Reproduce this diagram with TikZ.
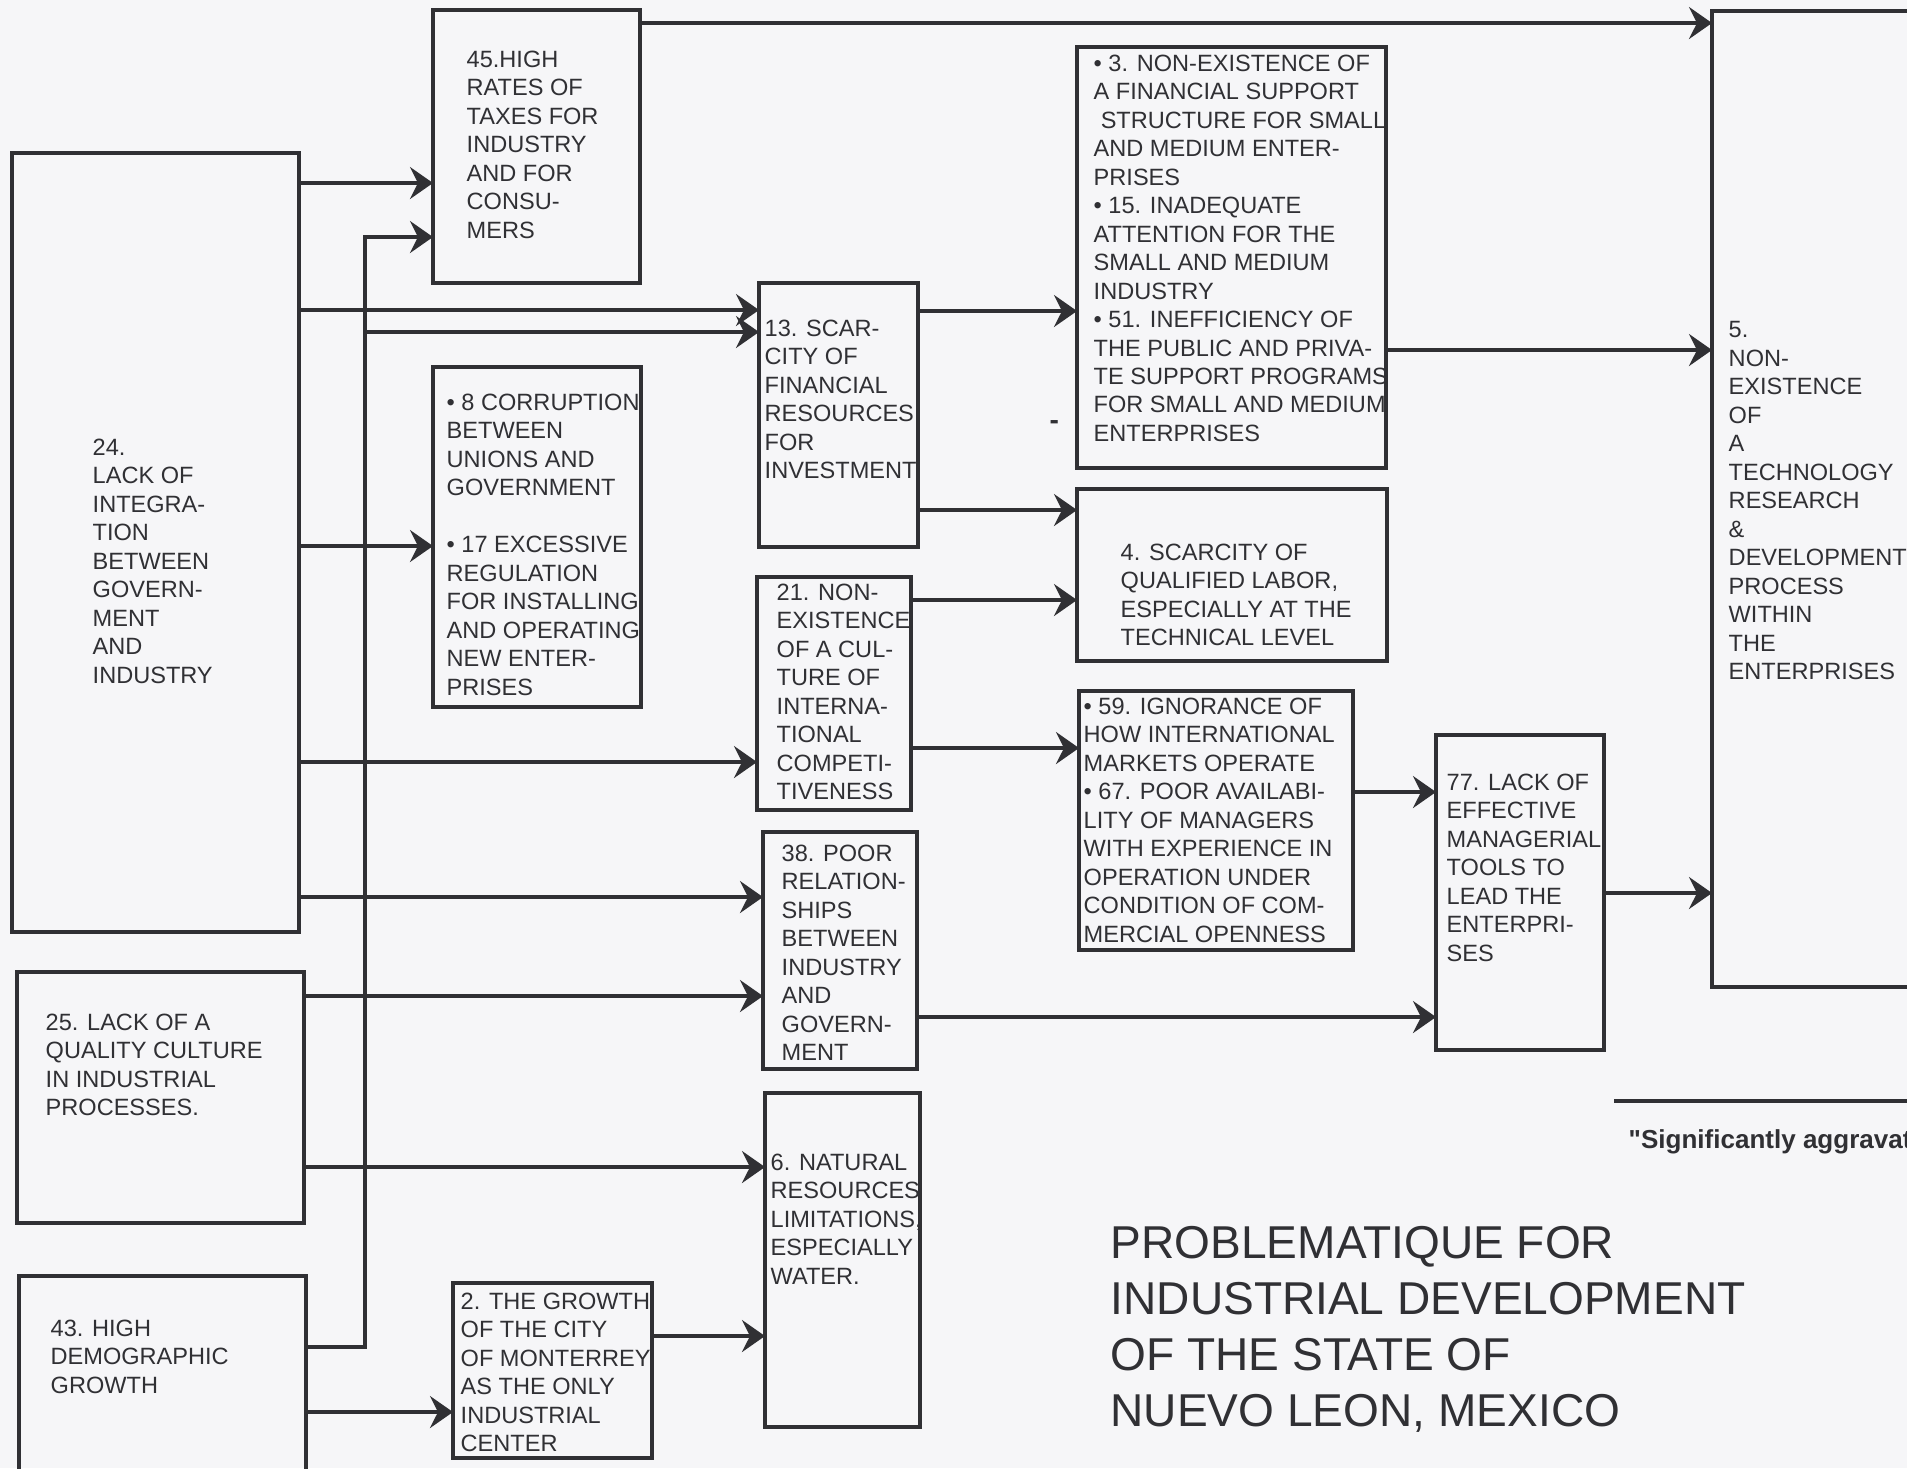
\documentclass[tikz,border=0pt]{standalone}
\usepackage{fontspec}
\setmainfont{Liberation Sans}
\usepackage{xcolor}
\usepackage{tikz}
\usetikzlibrary{arrows.meta, fit}

\definecolor{ink}{RGB}{48,48,52}
\definecolor{paper}{RGB}{246,246,248}
\newcommand\boxfont{\fontsize{6.7}{8.1}\selectfont}
\newcommand\headfont{\fontsize{13.1}{15.9}\selectfont}

\begin{document}
\begin{tikzpicture}[
      x=0.01cm, y=-0.01cm,
      box/.style ={rectangle, draw=ink, line width=1.15pt, inner sep=0pt, outer sep=0pt},
      txt/.style ={align=left, inner sep=0pt, anchor=north west, text=ink, font=\boxfont},
      link/.style={draw=ink, line width=0.95pt},
      >={Stealth[length=2.3mm, width=3.2mm, inset=0.8mm]}
    ]

    % Sheet
    \clip (0,0) rectangle (1907,1468);
    \fill[paper] (0,0) rectangle (1907,1468);

    % Left column
    \node[box, fit={(12,153) (299,932)}]   (n24) {};
    \node[box, fit={(17,972) (304,1223)}]  (n25) {};
    \node[box, fit={(19,1276) (306,1500)}] (n43) {};
    \node[txt] (t24) at (92,438)  {24.\\LACK OF\\INTEGRA-\\TION\\BETWEEN\\GOVERN-\\MENT\\AND\\INDUSTRY};
    \node[txt] (t25) at (45,1013) {25. LACK OF A\\QUALITY CULTURE\\IN INDUSTRIAL\\PROCESSES.};
    \node[txt] (t43) at (50,1319) {43. HIGH\\DEMOGRAPHIC\\GROWTH};

    % Second column
    \node[box, fit={(433,10) (640,283)}]   (n45)  {};
    \node[box, fit={(433,367) (641,707)}]  (n817) {};
    \node[box, fit={(453,1283) (652,1458)}] (n2)  {};
    \node[txt] (t45)  at (466,50)  {45.HIGH\\RATES OF\\TAXES FOR\\INDUSTRY\\AND FOR\\CONSU-\\MERS};
    \node[txt] (t817) at (446,393) {\textbullet\ 8 CORRUPTION\\BETWEEN\\UNIONS AND\\GOVERNMENT\\[8.1pt]%
      \textbullet\ 17 EXCESSIVE\\REGULATION\\FOR INSTALLING\\AND OPERATING\\NEW ENTER-\\PRISES};
    \node[txt] (t2)   at (460,1292) {2. THE GROWTH\\OF THE CITY\\OF MONTERREY\\AS THE ONLY\\INDUSTRIAL\\CENTER};

    % Third column
    \node[box, fit={(759,283) (918,547)}]  (n13) {};
    \node[box, fit={(757,577) (911,810)}]  (n21) {};
    \node[box, fit={(763,832) (917,1069)}] (n38) {};
    \node[box, fit={(765,1093) (920,1427)}] (n6) {};
    \node[txt] (t13) at (764,319)  {13. SCAR-\\CITY OF\\FINANCIAL\\RESOURCES\\FOR\\INVESTMENT};
    \node[txt] (t21) at (776,583)  {21. NON-\\EXISTENCE\\OF A CUL-\\TURE OF\\INTERNA-\\TIONAL\\COMPETI-\\TIVENESS};
    \node[txt] (t38) at (781,844)  {38. POOR\\RELATION-\\SHIPS\\BETWEEN\\INDUSTRY\\AND\\GOVERN-\\MENT};
    \node[txt] (t6)  at (770,1153) {6. NATURAL\\RESOURCES\\LIMITATIONS,\\ESPECIALLY\\WATER.};

    % Fourth column
    \node[box, fit={(1077,47) (1386,468)}]  (n3)  {};
    \node[box, fit={(1077,489) (1387,661)}] (n4)  {};
    \node[box, fit={(1079,691) (1353,950)}] (n59) {};
    \node[txt] (t3)  at (1093,54)  {\textbullet\ 3. NON-EXISTENCE OF\\A FINANCIAL SUPPORT\\\hspace{2pt}STRUCTURE FOR SMALL\\AND MEDIUM ENTER-\\PRISES\\%
      \textbullet\ 15. INADEQUATE\\ATTENTION FOR THE\\SMALL AND MEDIUM\\INDUSTRY\\%
      \textbullet\ 51. INEFFICIENCY OF\\THE PUBLIC AND PRIVA-\\TE SUPPORT PROGRAMS\\FOR SMALL AND MEDIUM\\ENTERPRISES};
    \node[txt] (t4)  at (1120,543) {4. SCARCITY OF\\QUALIFIED LABOR,\\ESPECIALLY AT THE\\TECHNICAL LEVEL};
    \node[txt] (t59) at (1083,697) {\textbullet\ 59. IGNORANCE OF\\HOW INTERNATIONAL\\MARKETS OPERATE\\%
      \textbullet\ 67. POOR AVAILABI-\\LITY OF MANAGERS\\WITH EXPERIENCE IN\\OPERATION UNDER\\CONDITION OF COM-\\MERCIAL OPENNESS};
    \node[txt, font=\fontsize{8}{9}\selectfont\bfseries] (dash) at (1049,420) {-};

    % Right side
    \node[box, fit={(1436,735) (1604,1050)}] (n77) {};
    \node[box, fit={(1712,11) (1940,987)}]   (n5)  {};
    \node[txt] (t77) at (1446,773) {77. LACK OF\\EFFECTIVE\\MANAGERIAL\\TOOLS TO\\LEAD THE\\ENTERPRI-\\SES};
    \node[txt] (t5)  at (1728,321) {5.\\NON-\\EXISTENCE\\OF\\A\\TECHNOLOGY\\RESEARCH\\\&\\DEVELOPMENT\\PROCESS\\WITHIN\\THE\\ENTERPRISES};

    % Bus from 43
    \coordinate (bus) at (365,0);

    % Links
    \draw[link, ->] (n45.east |- 0,23)   -- (n5.west |- 0,23);
    \draw[link, ->] (n24.east |- 0,183)  -- (n45.west |- 0,183);
    \draw[link, ->] (n43.east |- 0,1347) -| (bus |- 0,237) -- (n45.west |- 0,237);
    \draw[link, ->] (bus |- 0,332)       -- (n13.west |- 0,332);
    \draw[link, ->] (n24.east |- 0,310)  -- (n13.west |- 0,310);
    \draw[link, ->] (n24.east |- 0,546)  -- (n817.west |- 0,546);
    \draw[link, ->] (n24.east |- 0,762)  -- (n21.west |- 0,762);
    \draw[link, ->] (n24.east |- 0,897)  -- (n38.west |- 0,897);
    \draw[link, ->] (n25.east |- 0,996)  -- (n38.west |- 0,996);
    \draw[link, ->] (n25.east |- 0,1167) -- (n6.west |- 0,1167);
    \draw[link, ->] (n43.east |- 0,1412) -- (n2.west |- 0,1412);
    \draw[link, ->] (n2.east |- 0,1336)  -- (n6.west |- 0,1336);
    \draw[link, ->] (n13.east |- 0,311)  -- (n3.west |- 0,311);
    \draw[link, ->] (n13.east |- 0,510)  -- (n4.west |- 0,510);
    \draw[link, ->] (n21.east |- 0,600)  -- (n4.west |- 0,600);
    \draw[link, ->] (n21.east |- 0,748)  -- (n59.west |- 0,748);
    \draw[link, ->] (n3.east |- 0,350)   -- (n5.west |- 0,350);
    \draw[link, ->] (n59.east |- 0,792)  -- (n77.west |- 0,792);
    \draw[link, ->] (n38.east |- 0,1017) -- (n77.west |- 0,1017);
    \draw[link, ->] (n77.east |- 0,893)  -- (n5.west |- 0,893);

    % Legend and title
    \coordinate (rule) at (1614,1101);
    \draw[link, line width=1.1pt] (rule) -- (1920,1101);
    \node[anchor=west, inner sep=0pt, text=ink, font=\fontsize{7.4}{9}\selectfont\bfseries] (note) at (1628,1142)
      {\textquotedbl Significantly aggravates\textquotedbl};
    \node[txt, font=\headfont] (title) at (1110,1226)
      {PROBLEMATIQUE FOR\\INDUSTRIAL DEVELOPMENT\\OF THE STATE OF\\NUEVO LEON, MEXICO};

  \end{tikzpicture}
\end{document}
